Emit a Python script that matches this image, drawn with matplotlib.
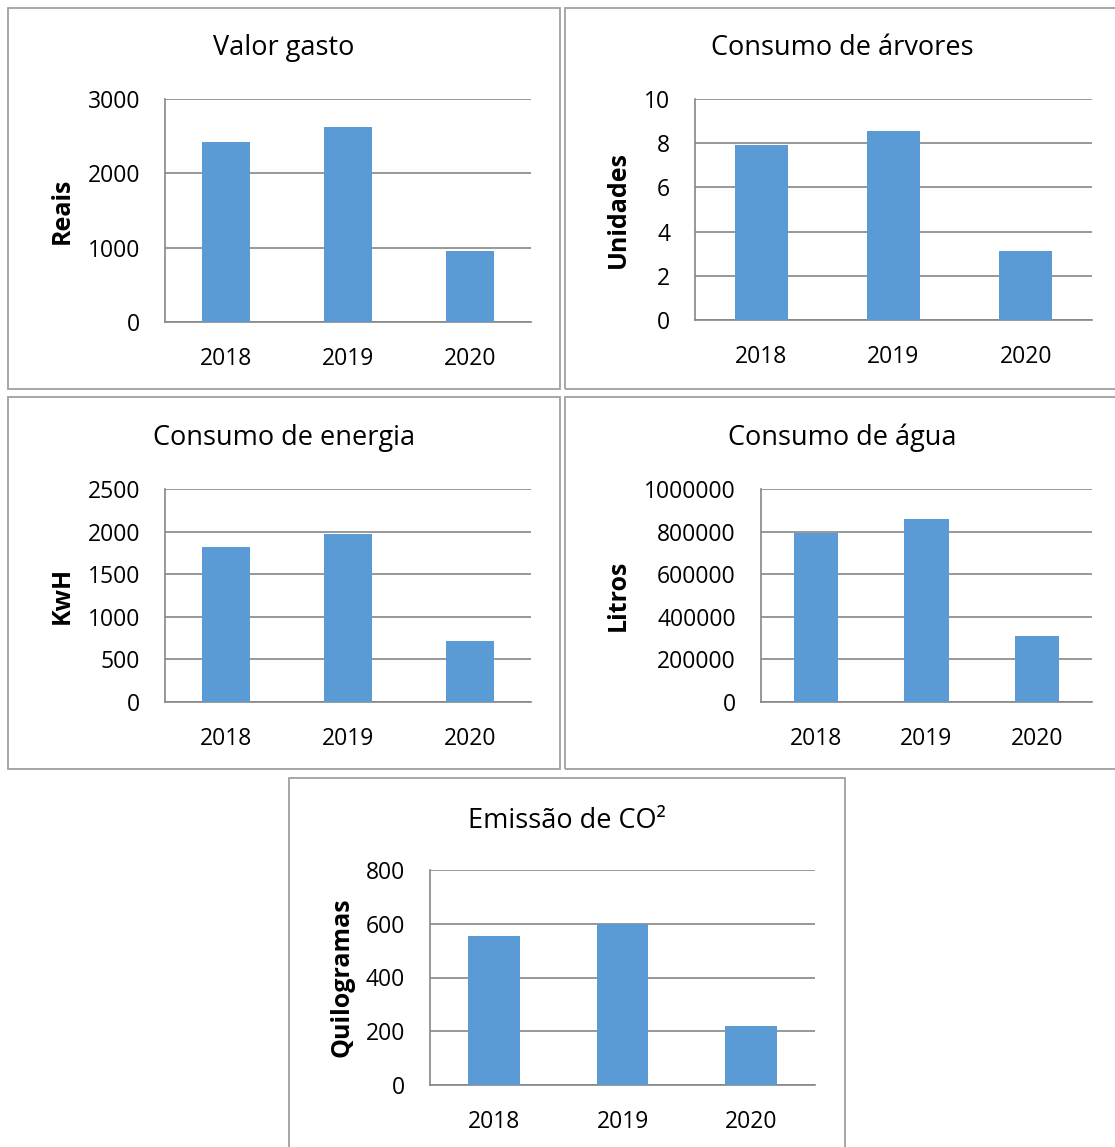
import matplotlib.pyplot as plt
from matplotlib.patches import Rectangle

plt.rcParams['font.family'] = ['Open Sans', 'DejaVu Sans']

# dados
anos = ['2018', '2019', '2020']
valor_gasto = [2420, 2620, 955]
arvores = [7.9, 8.55, 3.1]
energia = [1825, 1970, 713]
agua = [794000, 857000, 312000]
co2 = [555, 600, 218]

W, H = 1115, 1147
cor_barra = '#5b9bd5'
cor_grade = '#868686'
cor_moldura = '#a0a0a0'

fig = plt.figure(figsize=(W / 100, H / 100), dpi=100)


def px_box(x0, y0, x1, y1):
    '''converte caixa em pixels (origem no topo) para coords da figura'''
    return [x0 / W, 1 - y1 / H, (x1 - x0) / W, (y1 - y0) / H]


def painel(frame, caixa, titulo, ylabel, valores, ymax, passo, title_y, ylabel_x):
    fx0, fy0, fx1, fy1 = frame
    fig.patches.append(Rectangle((fx0 / W, 1 - fy1 / H), (fx1 - fx0) / W, (fy1 - fy0) / H,
                                 transform=fig.transFigure, fill=False,
                                 edgecolor=cor_moldura, linewidth=1.3))
    fig.text((fx0 + fx1) / 2 / W, 1 - title_y / H, titulo, ha='center', va='center',
             fontsize=19.5, color='black')

    ax = fig.add_axes(px_box(*caixa))
    ax.bar(range(len(anos)), valores, width=0.4, color=cor_barra, zorder=3)
    ax.set_xlim(-0.5, len(anos) - 0.5)
    ax.set_ylim(0, ymax)
    ticks = [i * passo for i in range(int(round(ymax / passo)) + 1)]
    ax.set_yticks(ticks)
    ax.set_yticklabels([f'{t:g}' if t < 1e6 else f'{int(t)}' for t in ticks])
    ax.set_xticks(range(len(anos)))
    ax.set_xticklabels(anos)
    ax.tick_params(axis='both', length=0, labelsize=16.5, colors='black')
    ax.tick_params(axis='y', pad=18)
    ax.tick_params(axis='x', pad=18)
    ax.yaxis.grid(True, color=cor_grade, linewidth=1.2, zorder=0)
    ax.set_axisbelow(True)
    for lado in ['top', 'right']:
        ax.spines[lado].set_visible(False)
    for lado in ['left', 'bottom']:
        ax.spines[lado].set_color(cor_grade)
        ax.spines[lado].set_linewidth(1.2)
    cy = (caixa[1] + caixa[3]) / 2
    fig.text(ylabel_x / W, 1 - cy / H, ylabel, rotation=90, ha='center', va='center',
             fontsize=18, fontweight='bold', color='black')
    return ax


painel((8, 8, 560, 389), (165, 99, 531, 322), 'Valor gasto', 'Reais',
       valor_gasto, 3000, 1000, 48, 62)
painel((565, 8, 1119, 389), (695, 99, 1092, 320), 'Consumo de árvores', 'Unidades',
       arvores, 10, 2, 48, 618)
painel((8, 397, 560, 769), (165, 489, 531, 702), 'Consumo de energia', 'KwH',
       energia, 2500, 500, 438, 62)
painel((565, 397, 1119, 769), (761, 489, 1092, 702), 'Consumo de água', 'Litros',
       agua, 1000000, 200000, 438, 618)
painel((289, 778, 845, 1160), (430, 870, 815, 1085), 'Emissão de CO²', 'Quilogramas',
       co2, 800, 200, 821, 342)

fig.savefig('out.png', dpi=100, facecolor='white')
